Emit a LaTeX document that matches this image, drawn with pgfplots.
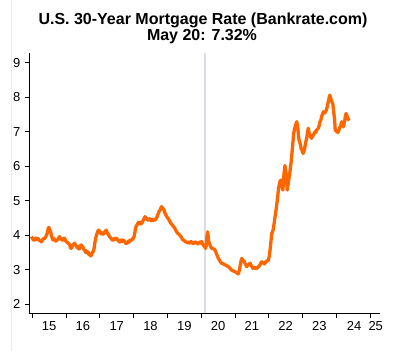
\documentclass[border=0pt]{standalone}
\usepackage{fontspec}
\setmainfont{Liberation Sans}
\usepackage{pgfplots}
\pgfplotsset{compat=1.18}
\definecolor{lineor}{RGB}{255,102,0}
\definecolor{covid}{RGB}{218,221,230}
\pgfplotstableread{
x y
2014.97 3.96
2015.01 3.90
2015.03 3.86
2015.07 3.86
2015.10 3.92
2015.13 3.88
2015.17 3.91
2015.20 3.86
2015.23 3.84
2015.27 3.81
2015.30 3.86
2015.33 3.90
2015.37 3.91
2015.40 3.96
2015.44 4.05
2015.47 4.20
2015.49 4.23
2015.52 4.15
2015.54 4.10
2015.58 3.95
2015.61 3.86
2015.64 3.90
2015.66 3.88
2015.70 3.83
2015.73 3.86
2015.76 3.88
2015.79 3.94
2015.81 3.96
2015.84 3.90
2015.88 3.86
2015.91 3.86
2015.94 3.92
2015.96 3.90
2015.99 3.84
2016.01 3.81
2016.04 3.79
2016.06 3.78
2016.09 3.74
2016.11 3.72
2016.13 3.64
2016.15 3.62
2016.18 3.68
2016.20 3.72
2016.23 3.74
2016.26 3.77
2016.28 3.70
2016.30 3.70
2016.33 3.64
2016.35 3.67
2016.38 3.60
2016.40 3.62
2016.43 3.70
2016.45 3.72
2016.48 3.66
2016.50 3.65
2016.53 3.58
2016.55 3.57
2016.58 3.50
2016.60 3.55
2016.63 3.48
2016.65 3.52
2016.68 3.44
2016.70 3.45
2016.73 3.40
2016.75 3.43
2016.78 3.50
2016.80 3.52
2016.83 3.62
2016.85 3.77
2016.88 3.92
2016.90 4.00
2016.94 4.12
2016.97 4.15
2017.01 4.08
2017.04 4.04
2017.06 4.08
2017.09 4.03
2017.12 4.05
2017.16 4.12
2017.19 4.15
2017.22 4.06
2017.24 4.05
2017.27 3.99
2017.29 3.96
2017.32 3.92
2017.34 3.90
2017.37 3.86
2017.40 3.86
2017.42 3.90
2017.45 3.91
2017.48 3.88
2017.50 3.91
2017.53 3.86
2017.55 3.85
2017.58 3.80
2017.60 3.81
2017.63 3.86
2017.65 3.86
2017.67 3.82
2017.69 3.86
2017.72 3.83
2017.75 3.80
2017.77 3.76
2017.80 3.78
2017.83 3.81
2017.85 3.83
2017.87 3.80
2017.89 3.86
2017.92 3.84
2017.95 3.88
2017.99 3.91
2018.02 3.98
2018.04 4.10
2018.07 4.25
2018.10 4.30
2018.14 4.37
2018.17 4.35
2018.19 4.33
2018.22 4.38
2018.24 4.34
2018.27 4.40
2018.29 4.45
2018.32 4.50
2018.34 4.54
2018.37 4.50
2018.39 4.48
2018.41 4.44
2018.43 4.44
2018.46 4.48
2018.49 4.47
2018.51 4.42
2018.54 4.46
2018.56 4.45
2018.58 4.43
2018.61 4.46
2018.63 4.44
2018.66 4.47
2018.68 4.50
2018.71 4.58
2018.73 4.63
2018.76 4.70
2018.78 4.72
2018.81 4.80
2018.83 4.83
2018.85 4.80
2018.87 4.78
2018.90 4.73
2018.92 4.66
2018.94 4.62
2018.96 4.58
2018.98 4.54
2019.01 4.50
2019.03 4.48
2019.06 4.42
2019.08 4.39
2019.11 4.34
2019.13 4.32
2019.16 4.28
2019.18 4.25
2019.21 4.22
2019.23 4.18
2019.26 4.12
2019.28 4.10
2019.30 4.06
2019.32 4.05
2019.35 4.02
2019.37 4.00
2019.40 3.96
2019.42 3.93
2019.45 3.88
2019.47 3.86
2019.50 3.85
2019.52 3.83
2019.55 3.80
2019.57 3.81
2019.60 3.78
2019.62 3.80
2019.65 3.77
2019.67 3.78
2019.70 3.82
2019.72 3.80
2019.75 3.77
2019.77 3.76
2019.80 3.79
2019.82 3.81
2019.85 3.79
2019.87 3.78
2019.90 3.75
2019.92 3.77
2019.95 3.80
2019.97 3.78
2020.00 3.82
2020.02 3.81
2020.04 3.75
2020.06 3.72
2020.09 3.68
2020.11 3.67
2020.13 3.62
2020.15 3.70
2020.17 3.95
2020.19 4.10
2020.21 3.95
2020.22 3.85
2020.24 3.76
2020.26 3.72
2020.29 3.66
2020.31 3.62
2020.33 3.63
2020.36 3.60
2020.38 3.61
2020.41 3.57
2020.44 3.50
2020.46 3.45
2020.49 3.38
2020.51 3.33
2020.54 3.28
2020.56 3.25
2020.59 3.20
2020.61 3.19
2020.64 3.18
2020.66 3.17
2020.69 3.15
2020.71 3.14
2020.74 3.13
2020.76 3.12
2020.78 3.10
2020.80 3.10
2020.83 3.07
2020.85 3.05
2020.88 3.01
2020.90 2.99
2020.93 2.98
2020.95 2.97
2020.98 2.95
2021.00 2.94
2021.03 2.93
2021.05 2.92
2021.08 2.89
2021.10 2.88
2021.13 2.98
2021.15 3.09
2021.18 3.25
2021.20 3.33
2021.22 3.30
2021.24 3.28
2021.26 3.25
2021.28 3.23
2021.30 3.18
2021.32 3.15
2021.35 3.09
2021.37 3.12
2021.40 3.14
2021.42 3.17
2021.45 3.19
2021.47 3.14
2021.50 3.10
2021.52 3.06
2021.54 3.04
2021.57 3.07
2021.59 3.06
2021.62 3.03
2021.64 3.04
2021.67 3.07
2021.69 3.08
2021.72 3.11
2021.74 3.14
2021.77 3.20
2021.79 3.23
2021.82 3.21
2021.84 3.20
2021.87 3.17
2021.89 3.19
2021.92 3.24
2021.94 3.25
2021.97 3.26
2021.99 3.28
2022.02 3.40
2022.04 3.57
2022.07 3.85
2022.09 4.05
2022.12 4.12
2022.14 4.20
2022.17 4.40
2022.19 4.55
2022.22 4.75
2022.24 4.90
2022.27 5.15
2022.29 5.35
2022.31 5.45
2022.33 5.55
2022.36 5.60
2022.39 5.45
2022.42 5.31
2022.45 5.75
2022.48 6.02
2022.50 5.90
2022.52 5.75
2022.55 5.31
2022.57 5.45
2022.60 5.65
2022.63 5.85
2022.66 6.08
2022.70 6.50
2022.74 6.95
2022.77 7.10
2022.80 7.20
2022.83 7.29
2022.86 7.15
2022.89 6.80
2022.93 6.66
2022.96 6.52
2022.99 6.45
2023.02 6.37
2023.04 6.42
2023.06 6.50
2023.08 6.60
2023.10 6.71
2023.12 6.80
2023.14 6.90
2023.17 7.10
2023.19 7.00
2023.22 6.90
2023.24 6.85
2023.27 6.81
2023.29 6.86
2023.32 6.90
2023.35 6.95
2023.37 7.00
2023.40 6.98
2023.42 7.05
2023.45 7.08
2023.47 7.10
2023.50 7.20
2023.52 7.29
2023.55 7.35
2023.57 7.45
2023.60 7.52
2023.62 7.58
2023.65 7.54
2023.67 7.55
2023.69 7.60
2023.71 7.63
2023.74 7.75
2023.76 7.85
2023.79 7.98
2023.81 8.06
2023.83 8.00
2023.85 7.92
2023.88 7.85
2023.90 7.80
2023.92 7.62
2023.94 7.45
2023.96 7.22
2023.97 7.05
2024.00 7.02
2024.02 7.00
2024.05 6.98
2024.07 7.02
2024.09 7.08
2024.11 7.14
2024.14 7.20
2024.16 7.29
2024.19 7.20
2024.21 7.14
2024.23 7.22
2024.25 7.30
2024.27 7.45
2024.29 7.53
2024.31 7.48
2024.33 7.43
2024.36 7.36
2024.38 7.32
}\mortgage
\begin{document}
\begin{tikzpicture}[x=1bp,y=1bp]
\useasboundingbox (0,0) rectangle (399,351);
\draw[black!8, line width=0.8bp] (11.7,0) -- (11.7,351);
\node[anchor=base, inner sep=0pt, font=\fontsize{16bp}{17bp}\selectfont\bfseries] at (203,326.8) {U.S. 30-Year Mortgage Rate (Bankrate.com)};
\node[anchor=base, inner sep=0pt, font=\fontsize{16bp}{17bp}\selectfont\bfseries] at (202,310.2) {May 20: 7.32\%};
\begin{axis}[
  at={(29.3bp,37.7bp)}, anchor=south west,
  scale only axis, width=350.7bp, height=260.6bp,
  xmin=2014.911, xmax=2025.296, ymin=1.739, ymax=9.29,
  axis lines*=left,
  axis line style={-, black, line width=0.8bp},
  tick style={black, line width=0.8bp},
  tick align=outside, major tick length=4.5bp,
  xtick={2015,2016,...,2025}, xticklabels={},
  extra x ticks={2015.5,2016.5,2017.5,2018.5,2019.5,2020.5,2021.5,2022.5,2023.5,2024.53,2025.17},
  extra x tick labels={15,16,17,18,19,20,21,22,23,24,25},
  extra x tick style={major tick length=0pt},
  ytick={2,3,...,9},
  /pgf/number format/assume math mode=true,
  ticklabel style={font=\fontsize{13bp}{15bp}\selectfont, black},
  xticklabel style={anchor=base, yshift=-17bp},
  yticklabel style={anchor=east, xshift=-1bp},
  clip=false,
]
\addplot[covid, line width=2.5bp, forget plot] coordinates {(2020.11,1.739) (2020.11,9.29)};
\addplot[lineor, line width=3.3bp, line join=round] table[x=x,y=y] {\mortgage};
\end{axis}
\end{tikzpicture}
\end{document}
